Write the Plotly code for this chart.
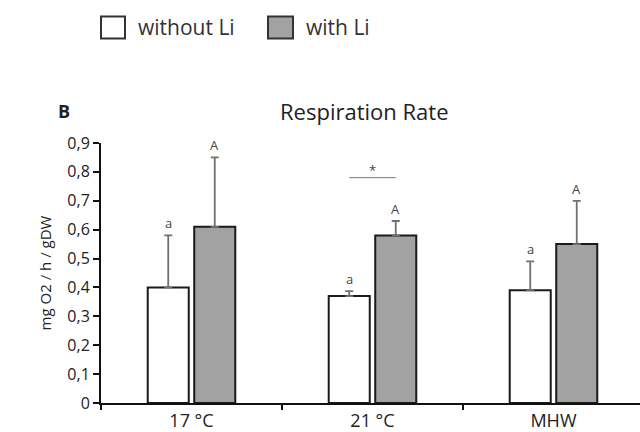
import plotly.graph_objects as go

categories = ["17 °C", "21 °C", "MHW"]
without_li = [0.40, 0.37, 0.39]
without_li_err = [0.18, 0.017, 0.10]
with_li = [0.61, 0.58, 0.55]
with_li_err = [0.24, 0.05, 0.15]
letters_without = ["a", "a", "a"]
letters_with = ["A", "A", "A"]
y_ticks = [0, 0.1, 0.2, 0.3, 0.4, 0.5, 0.6, 0.7, 0.8, 0.9]
sig_level = 0.78
sig_group = 1

FONT = "Open Sans"
W, H = 640, 432
L, R, T, B = 101, 0, 142.7, 29
BARGAP = 0.486
GROUPGAP = 0.118

def px(X):
    return (X - L) / (W - L - R)

def py(Y):
    return (H - B - Y) / (H - T - B)

fig = go.Figure()
fig.add_trace(go.Bar(
    x=categories, y=without_li, name="without Li",
    marker=dict(color="white", line=dict(color="#1a1a1a", width=2)),
    error_y=dict(type="data", array=without_li_err, arrayminus=[0]*3, symmetric=False,
                 color="#707070", thickness=1.8, width=4),
    showlegend=False,
))
fig.add_trace(go.Bar(
    x=categories, y=with_li, name="with Li",
    marker=dict(color="#a2a2a2", line=dict(color="#1a1a1a", width=2)),
    error_y=dict(type="data", array=with_li_err, arrayminus=[0]*3, symmetric=False,
                 color="#707070", thickness=1.8, width=4),
    showlegend=False,
))

off = (1 - BARGAP) / 4
annotations = []
for i in range(len(categories)):
    annotations.append(dict(x=i - off, y=without_li[i] + without_li_err[i], xref="x", yref="y",
                            text=letters_without[i], showarrow=False, yanchor="bottom", yshift=1,
                            font=dict(family=FONT, size=13, color="#444")))
    annotations.append(dict(x=i + off, y=with_li[i] + with_li_err[i], xref="x", yref="y",
                            text=letters_with[i], showarrow=False, yanchor="bottom", yshift=1,
                            font=dict(family=FONT, size=13, color="#444")))

annotations.append(dict(x=sig_group, y=sig_level, xref="x", yref="y", text="*", showarrow=False,
                        yanchor="bottom", yshift=-3, font=dict(family=FONT, size=13, color="#444")))

# title and panel letter
annotations.append(dict(x=px(364), y=py(111), xref="paper", yref="paper", text="Respiration Rate",
                        showarrow=False, xanchor="center", yanchor="middle",
                        font=dict(family=FONT, size=22, color="#222")))
annotations.append(dict(x=px(56), y=py(111), xref="paper", yref="paper", text="<b>B</b>",
                        showarrow=False, xanchor="left", yanchor="middle",
                        font=dict(family=FONT, size=18, color="#222")))

# legend
annotations.append(dict(x=px(136), y=py(27), xref="paper", yref="paper", text="without Li",
                        showarrow=False, xanchor="left", yanchor="middle",
                        font=dict(family=FONT, size=21, color="#333")))
annotations.append(dict(x=px(304), y=py(27), xref="paper", yref="paper", text="with Li",
                        showarrow=False, xanchor="left", yanchor="middle",
                        font=dict(family=FONT, size=21, color="#333")))

shapes = [
    dict(type="rect", xref="paper", yref="paper", x0=px(101), x1=px(125), y0=py(38), y1=py(16),
         fillcolor="white", line=dict(color="#333", width=2)),
    dict(type="rect", xref="paper", yref="paper", x0=px(268), x1=px(293), y0=py(38), y1=py(16),
         fillcolor="#a2a2a2", line=dict(color="#333", width=2)),
    dict(type="line", xref="x", yref="y", x0=sig_group - off, x1=sig_group + off,
         y0=sig_level, y1=sig_level, line=dict(color="#777", width=1)),
]

fig.update_layout(
    width=W, height=H,
    margin=dict(l=L, r=R, t=T, b=B, pad=0),
    paper_bgcolor="white", plot_bgcolor="white",
    barmode="group", bargap=BARGAP, bargroupgap=GROUPGAP,
    separators=", ",
    font=dict(family=FONT, color="#222"),
    annotations=annotations, shapes=shapes,
    xaxis=dict(range=[-0.5, 2.478], showline=True, linecolor="#111", linewidth=2,
               ticks="outside", tickson="boundaries", ticklen=5, tickcolor="#111", tickwidth=2,
               showgrid=False, zeroline=False, tickfont=dict(family=FONT, size=18, color="#222"),
               automargin=False),
    yaxis=dict(range=[0, 0.9], tickvals=y_ticks, showline=True,
               linecolor="#111", linewidth=2, ticks="outside", ticklen=6, tickcolor="#111",
               tickwidth=2, showgrid=False, zeroline=False,
               ticktext=["0"] + [f"{v:.1f}".replace(".", ",") for v in y_ticks[1:]],
               tickfont=dict(family=FONT, size=16, color="#222"),
               title=dict(text="mg O2 / h / gDW", font=dict(family=FONT, size=15, color="#222"),
                          standoff=12),
               automargin=False),
)

fig.write_html("out.html")
